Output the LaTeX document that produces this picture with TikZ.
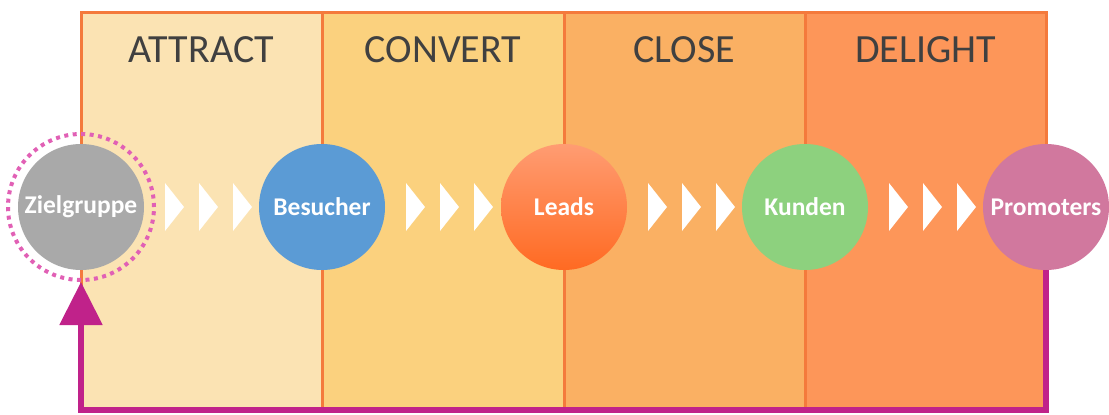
\documentclass[tikz,border=0pt]{standalone}
\usepackage{fontspec}
\setmainfont{Carlito}
\usetikzlibrary{arrows.meta,calc}
\definecolor{attractfill}{HTML}{FBE3B3}
\definecolor{convertfill}{HTML}{FBD17E}
\definecolor{closefill}{HTML}{FAB063}
\definecolor{delightfill}{HTML}{FD9659}
\definecolor{frameorange}{HTML}{F47A3C}
\definecolor{titlegray}{HTML}{404040}
\definecolor{loopmagenta}{HTML}{C0228A}
\definecolor{ringpink}{HTML}{E160B5}
\definecolor{zgray}{HTML}{A9A9A9}
\definecolor{bsblue}{HTML}{5B9BD5}
\definecolor{kdgreen}{HTML}{8DD17E}
\definecolor{pmpink}{HTML}{D1789E}
\definecolor{ldtop}{HTML}{FF9C72}
\definecolor{ldbottom}{HTML}{FF6A22}
\tikzset{
  panel/.style={fill=#1, draw=frameorange, line width=3pt},
  phasetitle/.style={text=titlegray, font=\fontsize{40}{44}\selectfont},
  stage/.style={circle, minimum size=126pt, inner sep=0pt, text=white,
    font=\bfseries\fontsize{25.5}{28}\selectfont},
  chevron/.style={fill=white},
  feedback/.style={draw=loopmagenta, line width=5.5pt, line join=miter,
    -{Triangle[length=43pt,width=42pt]}},
}
\begin{document}
\begin{tikzpicture}[x=1pt,y=-1pt]
\useasboundingbox (0,0) rectangle (1109,415);
% phase panels
\path[panel=attractfill] (81,12) rectangle (322,410);
\path[panel=convertfill] (322,12) rectangle (564,410);
\path[panel=closefill] (564,12) rectangle (805,410);
\path[panel=delightfill] (805,12) rectangle (1046,410);
\node[phasetitle] (tattract) at (201.5,50) {ATTRACT};
\node[phasetitle] (tconvert) at (443,50) {CONVERT};
\node[phasetitle] (tclose) at (684.5,50) {CLOSE};
\node[phasetitle] (tdelight) at (925.5,50) {DELIGHT};
% stage coordinates
\coordinate (czg) at (81,207);
\coordinate (cpm) at (1046,207);
% dotted ring around the target group
\node[circle, minimum size=146pt, inner sep=0pt, draw=ringpink, line width=4pt,
  dash pattern=on 4pt off 4.5pt] (ring) at (czg) {};
% feedback loop from promoters back to the target group
\path (cpm) ++(0,63) coordinate (pmfoot);
\draw[feedback] (pmfoot) -- (1046,410) -| (ring.south);
% stages
\node[stage, fill=zgray] (zg) at (czg) {Zielgruppe};
\node[stage, fill=bsblue] (bs) at (322,207) {Besucher};
\node[stage, top color=ldtop, bottom color=ldbottom] (ld) at (564,207) {Leads};
\node[stage, fill=kdgreen] (kd) at (805,207) {Kunden};
\node[stage, fill=pmpink] (pm) at (cpm) {Promoters};
% chevrons between the stages
\foreach \s in {zg,bs,ld,kd}{
  \foreach \dx in {84,118,152}{
    \fill[chevron] ($(\s.center)+(\dx,-24)$) -- ++(19,24) -- ++(-19,24) -- cycle;
  }
}
\end{tikzpicture}
\end{document}
